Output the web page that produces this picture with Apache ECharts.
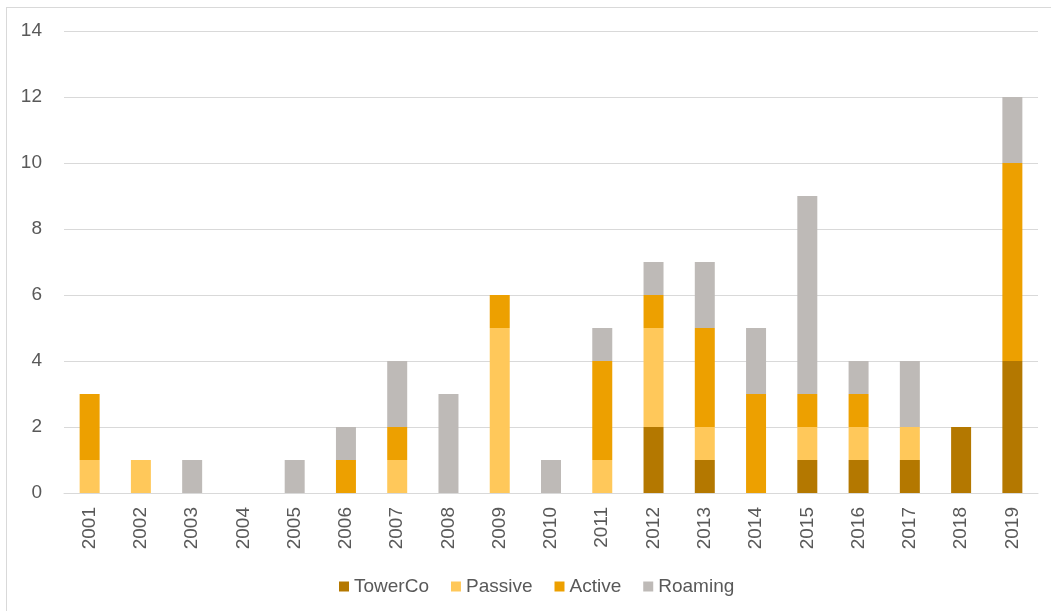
<!DOCTYPE html>
<html>
<head>
<meta charset="utf-8">
<script src="https://cdn.jsdelivr.net/npm/echarts@6/dist/echarts.min.js"></script>
<style>
html,body{margin:0;padding:0;background:#fff;overflow:hidden;}
#frame{position:absolute;left:6px;top:7px;width:1200px;height:800px;border:1px solid #D9D9D9;box-sizing:border-box;}
#chart{position:absolute;left:0;top:0;width:1051px;height:611px;}
</style>
</head>
<body>
<div id="frame"></div>
<div id="chart"></div>
<script>
const categories = ['2001','2002','2003','2004','2005','2006','2007','2008','2009','2010','2011','2012','2013','2014','2015','2016','2017','2018','2019'];
const towerCo = [0,0,0,0,0,0,0,0,0,0,0,2,1,0,1,1,1,2,4];
const passive = [1,1,0,0,0,0,1,0,5,0,1,3,1,0,1,1,1,0,0];
const active  = [2,0,0,0,0,1,1,0,1,0,3,1,3,3,1,1,0,0,6];
const roaming = [0,0,1,0,1,1,2,3,0,1,1,1,2,2,6,1,2,0,2];
const yTicks = [0,2,4,6,8,10,12,14];

const names = ['TowerCo','Passive','Active','Roaming'];
const colors = ['#B47800','#FFC85A','#EDA000','#BEBAB7'];
const values = [towerCo, passive, active, roaming];
const font = 'Liberation Sans, Arial, sans-serif';

const chart = echarts.init(document.getElementById('chart'), null, {renderer:'canvas'});
chart.setOption({
  animation:false,
  backgroundColor:'transparent',
  grid:{left:64,right:13,top:31,bottom:118,containLabel:false},
  legend:{
    top:572,left:334,
    itemWidth:10,itemHeight:10,itemGap:22,
    icon:'rect',
    textStyle:{color:'#595959',fontSize:19,fontFamily:font},
    data:names
  },
  xAxis:{
    type:'category',data:categories,
    axisLine:{show:true,lineStyle:{color:'#D9D9D9',width:1}},
    axisTick:{show:false},
    axisLabel:{rotate:90,color:'#595959',fontSize:19,margin:14,fontFamily:font}
  },
  yAxis:{
    type:'value',min:yTicks[0],max:yTicks[yTicks.length-1],interval:2,
    axisLine:{show:false},axisTick:{show:false},
    splitLine:{lineStyle:{color:'#D9D9D9',width:1}},
    axisLabel:{color:'#595959',fontSize:19,margin:22,align:'right',fontFamily:font}
  },
  series: names.map((n,i)=>({
    name:n,type:'bar',stack:'total',barWidth:'39%',
    itemStyle:{color:colors[i]},
    data:values[i]
  }))
});
</script>
</body>
</html>
